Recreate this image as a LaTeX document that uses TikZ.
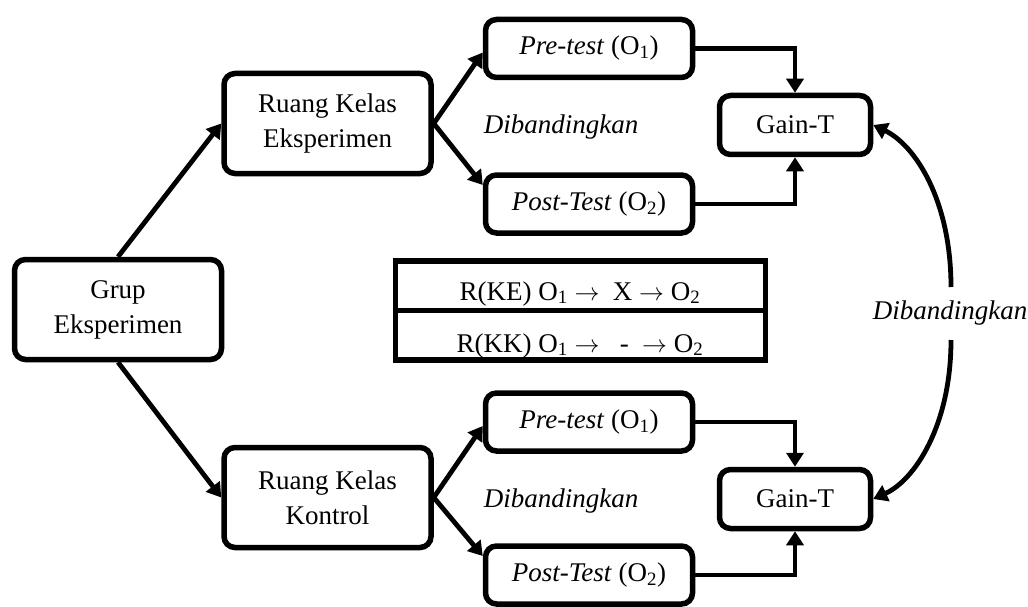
\documentclass[tikz,border=0pt]{standalone}
\usepackage{fontspec}
\setmainfont{Liberation Serif}
\usetikzlibrary{arrows.meta}
\begin{document}
\begin{tikzpicture}[x=1pt,y=-1pt,
  font=\fontsize{27}{35}\selectfont,
  box/.style={draw, line width=5.5pt, rounded corners=11pt, align=center, inner sep=0pt},
  big/.style={box, minimum width=207pt, minimum height=100pt},
  testbox/.style={box, minimum width=207pt, minimum height=58pt},
  gain/.style={box, minimum width=151pt, minimum height=59pt},
  arr/.style={line width=4.8pt, -{Triangle[length=14pt,width=17pt]}},
  lbl/.style={font=\fontsize{27}{32}\selectfont\itshape},
  rowtext/.style={anchor=base, inner sep=0pt}]
\useasboundingbox (0,0) rectangle (1028,607);

% boxes
\node[big] (grup) at (118,309.5) {Grup\\Eksperimen};
\node[big] (rke) at (327.5,123.5) {Ruang Kelas\\Eksperimen};
\node[big] (rkk) at (327.5,497.5) {Ruang Kelas\\Kontrol};
\node[testbox] (pre1) at (589,48.5) {\textit{Pre-test} (O\textsubscript{1})};
\node[testbox] (post1) at (589,204) {\textit{Post-Test} (O\textsubscript{2})};
\node[testbox] (pre2) at (589,422) {\textit{Pre-test} (O\textsubscript{1})};
\node[testbox] (post2) at (589,575) {\textit{Post-Test} (O\textsubscript{2})};
\node[gain] (gain1) at (795,125) {Gain-T};
\node[gain] (gain2) at (795,499) {Gain-T};

% labels
\node[lbl] (d1) at (561,127) {Dibandingkan};
\node[lbl] (d2) at (561,501) {Dibandingkan};
\node[lbl] (d3) at (950,313) {Dibandingkan};

% table
\node[rowtext] (r1) at (580,300) {R(KE) O\textsubscript{1} $\rightarrow$\ \ X $\rightarrow$ O\textsubscript{2}};
\node[rowtext] (r2) at (580,352) {R(KK) O\textsubscript{1} $\rightarrow$\ \ \ -\ \ $\rightarrow$ O\textsubscript{2}};
\node[draw, line width=5.5pt, minimum width=370pt, minimum height=99pt, inner sep=0pt] (tab) at (580.5,310.5) {};
\draw[line width=5.5pt] (tab.west) -- (tab.east);

% connectors
\draw[arr] (grup.north) -- (rke.west);
\draw[arr] (grup.south) -- (rkk.west);
\draw[arr] (rke.east) -- ([yshift=-4pt]pre1.west);
\draw[arr] (rke.east) -- ([yshift=19pt]post1.west);
\draw[arr] (rkk.east) -- ([yshift=-4pt]pre2.west);
\draw[arr] (rkk.east) -- ([yshift=19pt]post2.west);
\draw[arr] (pre1.east) -| (gain1.north);
\draw[arr] (post1.east) -| (gain1.south);
\draw[arr] (pre2.east) -| (gain2.north);
\draw[arr] (post2.east) -| (gain2.south);

\coordinate (ctop) at (951,287);
\coordinate (cbot) at (951,340);
\draw[arr] (ctop) .. controls (951,200) and (915,145) .. (gain1.east);
\draw[arr] (cbot) .. controls (951,425) and (915,480) .. (gain2.east);
\end{tikzpicture}
\end{document}
